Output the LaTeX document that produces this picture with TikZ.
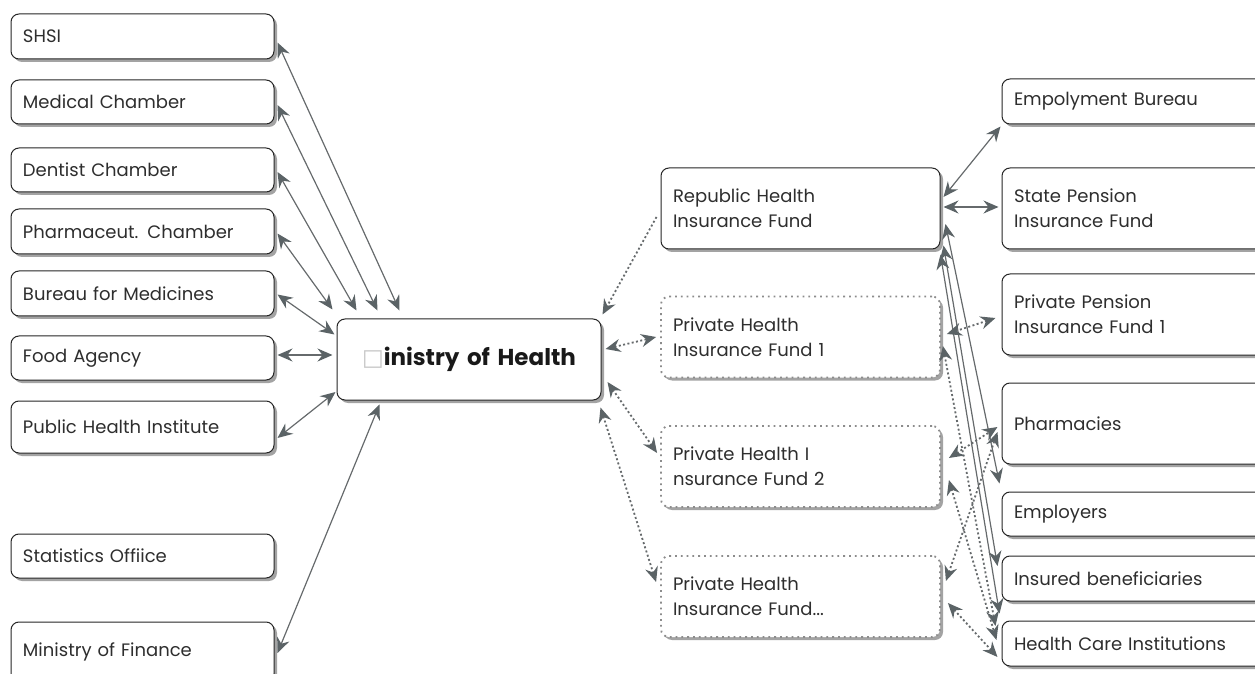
\documentclass[tikz,border=0pt]{standalone}
\usepackage{fontspec}
\setmainfont{Poppins}
\newfontfamily\symfont{DejaVu Sans}
\usetikzlibrary{arrows.meta,shadows,calc}
\definecolor{linegray}{HTML}{666A6C}
\definecolor{tipgray}{HTML}{5B6366}
\definecolor{shadowgray}{HTML}{A3A3A3}
\definecolor{textgray}{HTML}{2E2E2E}
\begin{document}
\begin{tikzpicture}[x=0.5pt,y=-0.5pt,
	base_box/.style={rounded corners=4pt,fill=white,align=left,inner xsep=6pt,inner ysep=0pt,text=textgray,font=\fontsize{9}{12.5}\selectfont,drop shadow={shadow xshift=1.5pt,shadow yshift=-1.5pt,fill=shadowgray,opacity=1}},
	main_box/.style={base_box,draw=black!85,line width=0.5pt},
	dot_box/.style={base_box,draw=gray!90,dotted,line width=0.9pt,text width=127.5pt,minimum height=40.5pt},
	left_box/.style={main_box,text width=119.5pt},
	mid_box/.style={main_box,text width=127.5pt,minimum height=40.5pt},
	right_box/.style={main_box,text width=128pt},
	link/.style={draw=linegray,line width=0.6pt,{Stealth[length=7.5pt,width=6.5pt,inset=2.5pt,color=tipgray]}-{Stealth[length=7.5pt,width=6.5pt,inset=2.5pt,color=tipgray]}},
	dot_link/.style={link,dash pattern=on 1pt off 1.2pt,line width=0.9pt}]
	
	\useasboundingbox (0,0) rectangle (1255,674);
	
	\node[left_box,minimum height=22.5pt] (shsi) at (142.5,36.5) {SHSI};
	\node[left_box,minimum height=22pt] (medical) at (142.5,102) {Medical Chamber};
	\node[left_box,minimum height=22pt] (dentist) at (142.5,170) {Dentist Chamber};
	\node[left_box,minimum height=22.5pt] (pharmch) at (142.5,231.5) {Pharmaceut. Chamber};
	\node[left_box,minimum height=22.5pt] (bureau) at (142.5,293.5) {Bureau for Medicines};
	\node[left_box,minimum height=22pt] (food) at (142.5,358) {Food Agency};
	\node[left_box,minimum height=26pt] (phi) at (142.5,427) {Public Health Institute};
	\node[left_box,minimum height=22pt] (stat) at (142.5,556) {Statistics Offiice};
	\node[left_box,minimum height=30pt] (finance) at (142.5,652) {Ministry of Finance};
	
	\node[main_box,align=center,text width=120pt,minimum height=40.5pt,text=black!90,font=\bfseries\fontsize{11.5}{13}\selectfont] (moh) at (469,359.5) {{\symfont\mdseries\color{gray!45}□}inistry of Health};
	
	\node[mid_box] (rhif) at (800.5,208.5) {Republic Health\\Insurance Fund};
	\node[dot_box] (phif1) at (800.5,337) {Private Health\\Insurance Fund 1};
	\node[dot_box] (phif2) at (800.5,466.5) {Private Health I\\nsurance Fund 2};
	\node[dot_box] (phifn) at (800.5,596.5) {Private Health\\Insurance Fund...};
	
	\node[right_box,minimum height=22.5pt] (employment) at (1142,101.5) {Empolyment Bureau};
	\node[right_box,minimum height=40.5pt] (spif) at (1142,208.5) {State Pension\\Insurance Fund};
	\node[right_box,minimum height=40.5pt] (ppif) at (1142,314.5) {Private Pension\\Insurance Fund 1};
	\node[right_box,minimum height=40.5pt] (pharmacies) at (1142,423.5) {Pharmacies};
	\node[right_box,minimum height=22pt] (employers) at (1142,514) {Employers};
	\node[right_box,minimum height=22.5pt] (insured) at (1142,578.5) {Insured beneficiaries};
	\node[right_box,minimum height=22.5pt] (hci) at (1142,643.5) {Health Care Institutions};
	
	\draw[link] ($(shsi.east)+(3,6)$) -- ($(moh.north west)+(63,-8)$);
	\draw[link] ($(medical.east)+(3,3)$) -- ($(moh.north west)+(41,-8)$);
	\draw[link] ($(dentist.east)+(3,2)$) -- ($(moh.north west)+(20,-8)$);
	\draw[link] ($(pharmch.east)+(3,2)$) -- ($(moh.north west)+(-4,-9)$);
	\draw[link] ($(bureau.east)+(3,1)$) -- ($(moh.west)+(-2,-25)$);
	\draw[link] ($(food.east)+(3,-3)$) -- ($(moh.west)+(-4,-4.5)$);
	\draw[link] ($(phi.east)+(3,11)$) -- ($(moh.west)+(-1,32.5)$);
	\draw[link] ($(finance.east)+(3,1)$) -- ($(moh.south west)+(43,4)$);
	
	\draw[dot_link,-{Stealth[length=7.5pt,width=6.5pt,inset=2.5pt,color=tipgray]}] ($(rhif.west)+(-4,8.5)$) -- ($(moh.north east)+(1,-4)$);
	\draw[dot_link] ($(moh.east)+(4,-10.5)$) -- ($(phif1.west)+(-4,0)$);
	\draw[dot_link] ($(moh.east)+(6,22.5)$) -- ($(phif2.west)+(-3,-13.5)$);
	\draw[dot_link] ($(moh.south east)+(-1,7)$) -- ($(phifn.west)+(-4,-14.5)$);
	
	\draw[link] ($(rhif.east)+(3,-11.5)$) -- ($(employment.south west)+(-1,2)$);
	\draw[link] ($(rhif.east)+(3,-1.5)$) -- ($(spif.west)+(-3,-1.5)$);
	\draw[link] ($(rhif.east)+(5,15.5)$) -- ($(employers.north west)+(-2,-8)$);
	\draw[link] ($(rhif.south east)+(3,-4)$) -- ($(insured.west)+(-4,-12.5)$);
	\draw[link] ($(rhif.south east)+(0,5)$) -- ($(hci.north west)+(-2,-7)$);
	
	\draw[dot_link] ($(phif1.east)+(6,-3)$) -- ($(ppif.west)+(-6,3.5)$);
	\draw[dot_link] ($(phif1.east)+(2,9)$) -- ($(hci.west)+(-6,-17.5)$);
	\draw[dot_link] ($(phif2.east)+(8,-8.5)$) -- ($(pharmacies.west)+(-4,3.5)$);
	\draw[dot_link] ($(phifn.east)+(5,-15.5)$) -- ($(pharmacies.west)+(-4,8.5)$);
	\draw[dot_link] ($(phif2.east)+(8,13.5)$) -- ($(hci.west)+(-5,-3.5)$);
	\draw[dot_link] ($(phifn.east)+(7,6.5)$) -- ($(hci.west)+(-4,13.5)$);
\end{tikzpicture}
\end{document}
